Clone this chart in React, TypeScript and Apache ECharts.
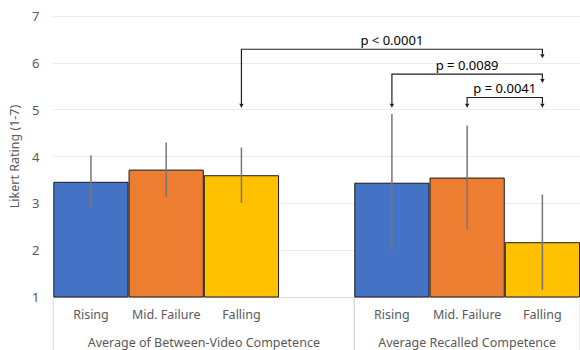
import React, { useEffect, useRef } from "react";
import * as echarts from "echarts";

const categories = ["Rising", "Mid. Failure", "Falling", "", "Rising", "Mid. Failure", "Falling"];
const means = [3.46, 3.72, 3.6, null, 3.44, 3.55, 2.17];
const errors = [0.56, 0.58, 0.59, null, 1.47, 1.11, 1.02];
const barColors = ["#4472C4", "#ED7D31", "#FFC000", "#ffffff", "#4472C4", "#ED7D31", "#FFC000"];

const groupLabels = ["Average of Between-Video Competence", "Average Recalled Competence"];
const groupFrom = [0, 4];
const groupTo = [3, 6];

const pLabels = ["p < 0.0001", "p = 0.0089", "p = 0.0041"];
const pFrom = [2, 4, 5];
const pTo = [6, 6, 6];
const pLevel = [6.29, 5.76, 5.26];
const pFromTip = [5.04, 5.04, 5.04];
const pToTip = [6.1, 5.57, 5.04];

const yTicks = { min: 1, max: 7, interval: 1 };

const FONT = '"Noto Sans", sans-serif';

export default function App() {
  const ref = useRef<HTMLDivElement>(null);
  useEffect(() => {
    const chart = echarts.init(ref.current!, null, { renderer: "svg" });
    const barData = means.map((v, i) =>
      v == null ? null : { value: v, itemStyle: { color: barColors[i] } }
    );
    const errData = means
      .map((v, i) => (v == null ? null : [i, v - (errors[i] as number), v + (errors[i] as number)]))
      .filter((d) => d != null);
    const groupData = groupLabels.map((_, i) => [groupFrom[i], groupTo[i]]);
    const pData = pLabels.map((_, i) => [pFrom[i], pTo[i], pLevel[i], pFromTip[i], pToTip[i]]);

    chart.setOption({
      animation: false,
      grid: { left: 50, top: 16, width: 532, bottom: 53 },
      xAxis: {
        type: "category",
        data: categories,
        axisLine: { show: true, lineStyle: { color: "#d9d9d9", width: 1 } },
        axisTick: { show: false },
        axisLabel: { color: "#595959", fontSize: 12.5, fontFamily: FONT, margin: 11, interval: 0 },
      },
      yAxis: {
        type: "value",
        min: yTicks.min,
        max: yTicks.max,
        interval: yTicks.interval,
        name: "Likert Rating (1-7)",
        nameLocation: "middle",
        nameGap: 30,
        nameTextStyle: { color: "#595959", fontSize: 12.5, fontFamily: FONT },
        axisLine: { show: false },
        axisTick: { show: false },
        axisLabel: { color: "#595959", fontSize: 13, fontFamily: FONT, margin: 14 },
        splitLine: { lineStyle: { color: "#ebebeb", width: 1 } },
      },
      series: [
        {
          type: "bar",
          data: barData,
          barWidth: "100%",
          itemStyle: { borderColor: "#1a1a1a", borderWidth: 1 },
          z: 2,
        },
        {
          type: "custom",
          data: errData,
          encode: { x: 0, y: [1, 2] },
          z: 3,
          renderItem: (params: any, api: any) => {
            const lo = api.coord([api.value(0), api.value(1)]);
            const hi = api.coord([api.value(0), api.value(2)]);
            return {
              type: "line",
              shape: { x1: lo[0], y1: lo[1], x2: hi[0], y2: hi[1] },
              style: { stroke: "#767676", lineWidth: 1.5 },
            };
          },
        },
        {
          type: "custom",
          data: groupData,
          encode: { x: [0, 1] },
          clip: false,
          z: 3,
          renderItem: (params: any, api: any) => {
            const bw = api.size([1, 0])[0];
            const a = api.coord([api.value(0), yTicks.min]);
            const b = api.coord([api.value(1), yTicks.min]);
            const xL = a[0] - bw / 2;
            const xR = b[0] + bw / 2;
            const y0 = a[1];
            return {
              type: "group",
              children: [
                { type: "line", shape: { x1: xL, y1: y0, x2: xL, y2: y0 + 60 }, style: { stroke: "#d9d9d9", lineWidth: 1 } },
                { type: "line", shape: { x1: xR, y1: y0, x2: xR, y2: y0 + 60 }, style: { stroke: "#d9d9d9", lineWidth: 1 } },
                {
                  type: "text",
                  style: {
                    text: groupLabels[params.dataIndex],
                    x: (xL + xR) / 2,
                    y: y0 + 45,
                    align: "center",
                    verticalAlign: "middle",
                    fill: "#595959",
                    fontSize: 12.5,
                    fontFamily: FONT,
                  },
                },
              ],
            };
          },
        },
        {
          type: "custom",
          data: pData,
          encode: { x: [0, 1], y: [2, 3, 4] },
          clip: false,
          z: 4,
          renderItem: (params: any, api: any) => {
            const p1 = api.coord([api.value(0), api.value(2)]);
            const p2 = api.coord([api.value(1), api.value(2)]);
            const t1 = api.coord([api.value(0), api.value(3)]);
            const t2 = api.coord([api.value(1), api.value(4)]);
            const ah = 4;
            const aw = 2.2;
            const stroke = "#1f1f1f";
            return {
              type: "group",
              children: [
                {
                  type: "polyline",
                  shape: { points: [[p1[0], t1[1] - ah], [p1[0], p1[1]], [p2[0], p2[1]], [p2[0], t2[1] - ah]] },
                  style: { stroke, lineWidth: 1.2, fill: "none" },
                },
                {
                  type: "polygon",
                  shape: { points: [[t1[0] - aw, t1[1] - ah], [t1[0] + aw, t1[1] - ah], [t1[0], t1[1]]] },
                  style: { fill: stroke },
                },
                {
                  type: "polygon",
                  shape: { points: [[t2[0] - aw, t2[1] - ah], [t2[0] + aw, t2[1] - ah], [t2[0], t2[1]]] },
                  style: { fill: stroke },
                },
                {
                  type: "text",
                  style: {
                    text: pLabels[params.dataIndex],
                    x: (p1[0] + p2[0]) / 2,
                    y: p1[1] - 3,
                    align: "center",
                    verticalAlign: "bottom",
                    fill: "#000000",
                    fontSize: 13,
                    fontFamily: FONT,
                  },
                },
              ],
            };
          },
        },
      ],
    });
    return () => chart.dispose();
  }, []);
  return <div ref={ref} style={{ width: 580, height: 350, position: "absolute", left: 0, top: 0 }} />;
}
